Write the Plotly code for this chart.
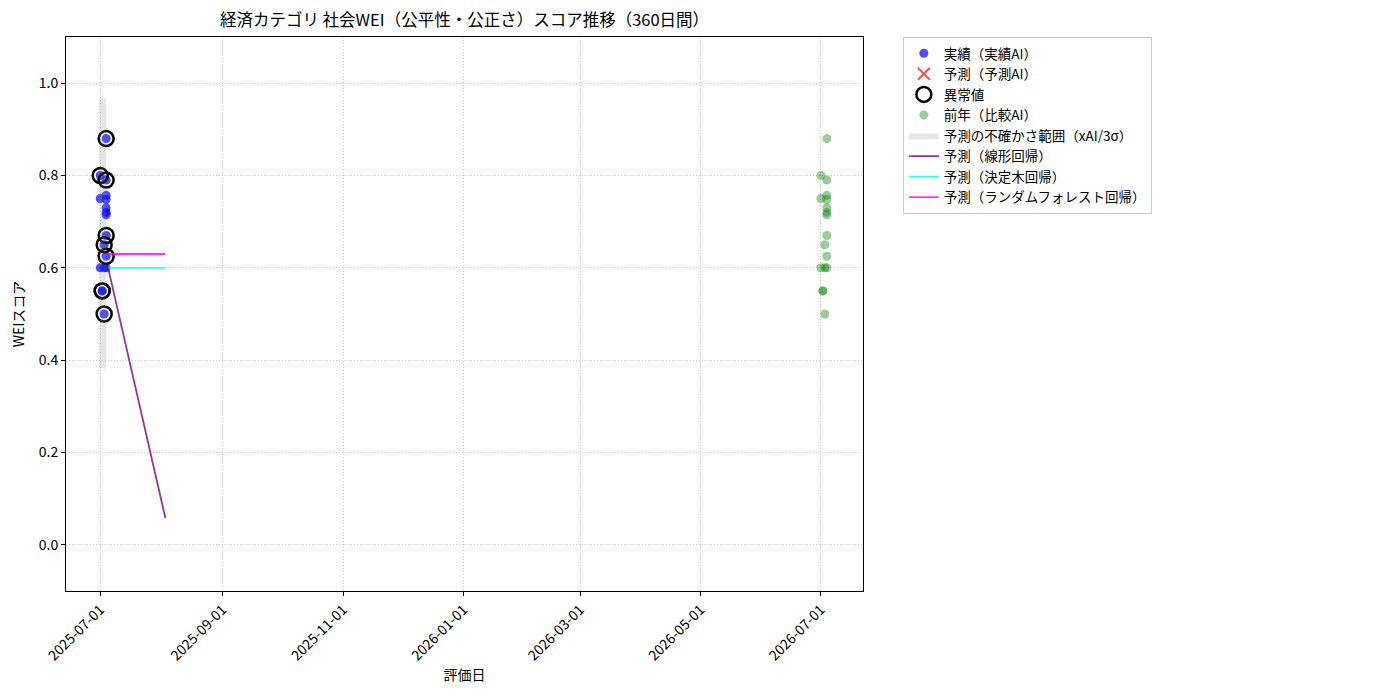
import plotly.graph_objects as go

# 実績データ（実績AI）
actual_dates = [
    "2025-07-01", "2025-07-01", "2025-07-01", "2025-07-02", "2025-07-02",
    "2025-07-03", "2025-07-03", "2025-07-03", "2025-07-04", "2025-07-04",
    "2025-07-04", "2025-07-04", "2025-07-04", "2025-07-04", "2025-07-04",
    "2025-07-04", "2025-07-04", "2025-07-04",
]
actual_values = [
    0.80, 0.75, 0.60, 0.55, 0.55,
    0.60, 0.65, 0.50, 0.88, 0.79,
    0.757, 0.748, 0.73, 0.72, 0.715,
    0.67, 0.625, 0.60,
]

# 異常値
anomaly_dates = [
    "2025-07-01", "2025-07-02", "2025-07-02", "2025-07-03", "2025-07-03",
    "2025-07-04", "2025-07-04", "2025-07-04", "2025-07-04",
]
anomaly_values = [0.80, 0.55, 0.55, 0.65, 0.50, 0.88, 0.79, 0.67, 0.625]

# 前年（比較AI）
prev_dates = [
    "2026-07-01", "2026-07-01", "2026-07-01", "2026-07-02", "2026-07-02",
    "2026-07-03", "2026-07-03", "2026-07-03", "2026-07-04", "2026-07-04",
    "2026-07-04", "2026-07-04", "2026-07-04", "2026-07-04", "2026-07-04",
    "2026-07-04", "2026-07-04", "2026-07-04",
]
prev_values = actual_values

# 予測の不確かさ範囲
band_start = "2025-06-30 12:00"
band_end = "2025-07-04"
band_upper = 0.967
band_lower = 0.382

# 予測ライン
pred_dates = ["2025-07-05", "2025-08-03"]
pred_linear = [0.600, 0.058]
pred_tree = [0.600, 0.600]
pred_forest = [0.630, 0.630]

tick_vals = ["2025-07-01", "2025-09-01", "2025-11-01", "2026-01-01",
             "2026-03-01", "2026-05-01", "2026-07-01"]

font_jp = "Noto Sans CJK JP"

fig = go.Figure()

fig.add_trace(go.Scatter(
    x=actual_dates, y=actual_values, mode="markers", name="実績（実績AI）",
    marker=dict(color="rgba(0,0,255,0.7)", size=9, line=dict(width=0)),
))
fig.add_trace(go.Scatter(
    x=[None], y=[None], mode="markers", name="予測（予測AI）",
    marker=dict(color="rgba(255,0,0,0.7)", size=12, symbol="x-thin",
                line=dict(width=2, color="rgba(255,0,0,0.7)")),
))
fig.add_trace(go.Scatter(
    x=anomaly_dates, y=anomaly_values, mode="markers", name="異常値",
    marker=dict(color="rgba(0,0,0,0)", size=15, symbol="circle",
                line=dict(width=2.5, color="black")),
))
fig.add_trace(go.Scatter(
    x=prev_dates, y=prev_values, mode="markers", name="前年（比較AI）",
    marker=dict(color="rgba(0,128,0,0.4)", size=9, line=dict(width=0)),
))
fig.add_trace(go.Scatter(
    x=[band_start, band_end, band_end, band_start, band_start],
    y=[band_lower, band_lower, band_upper, band_upper, band_lower],
    mode="lines", line=dict(width=0), fill="toself",
    fillcolor="rgba(128,128,128,0.2)", name="予測の不確かさ範囲（xAI/3σ）",
))
fig.add_trace(go.Scatter(
    x=pred_dates, y=pred_linear, mode="lines", name="予測（線形回帰）",
    line=dict(color="rgba(128,0,128,0.8)", width=1.8),
))
fig.add_trace(go.Scatter(
    x=pred_dates, y=pred_tree, mode="lines", name="予測（決定木回帰）",
    line=dict(color="rgba(0,255,255,0.8)", width=1.8),
))
fig.add_trace(go.Scatter(
    x=pred_dates, y=pred_forest, mode="lines", name="予測（ランダムフォレスト回帰）",
    line=dict(color="rgba(255,0,255,0.8)", width=1.8),
))

fig.update_layout(
    width=1400, height=700,
    paper_bgcolor="white", plot_bgcolor="white",
    font=dict(family=font_jp, size=14, color="black"),
    margin=dict(l=58, r=545, t=29, b=117),
    title=dict(text="経済カテゴリ 社会WEI（公平性・公正さ）スコア推移（360日間）",
               x=0.5, xref="paper", xanchor="center", y=0.983, yanchor="middle",
               font=dict(size=16.5)),
    legend=dict(x=1.05, y=1.0, xanchor="left", yanchor="top", traceorder="normal",
                bordercolor="#cccccc", borderwidth=1, bgcolor="white",
                font=dict(size=13.5), tracegroupgap=0),
    showlegend=True,
)

fig.update_xaxes(
    range=["2025-06-13 16:00", "2026-07-22 08:00"], automargin=False,
    tickvals=tick_vals, ticktext=tick_vals, tickangle=-45,
    showline=True, linecolor="black", linewidth=1, mirror=True,
    ticks="outside", ticklen=4, tickcolor="black",
    showgrid=True, gridcolor="#c8c8c8", griddash="1px,2px", gridwidth=1,
    zeroline=False,
    title=dict(text="評価日", font=dict(size=14), standoff=2),
)
fig.update_yaxes(
    range=[-0.1, 1.1], automargin=False,
    tickvals=[0.0, 0.2, 0.4, 0.6, 0.8, 1.0], tickformat=".1f",
    showline=True, linecolor="black", linewidth=1, mirror=True,
    ticks="outside", ticklen=4, tickcolor="black",
    showgrid=True, gridcolor="#c8c8c8", griddash="1px,2px", gridwidth=1,
    zeroline=False,
    title=dict(text="WEIスコア", font=dict(size=14), standoff=10),
)

fig.write_html("out.html")
